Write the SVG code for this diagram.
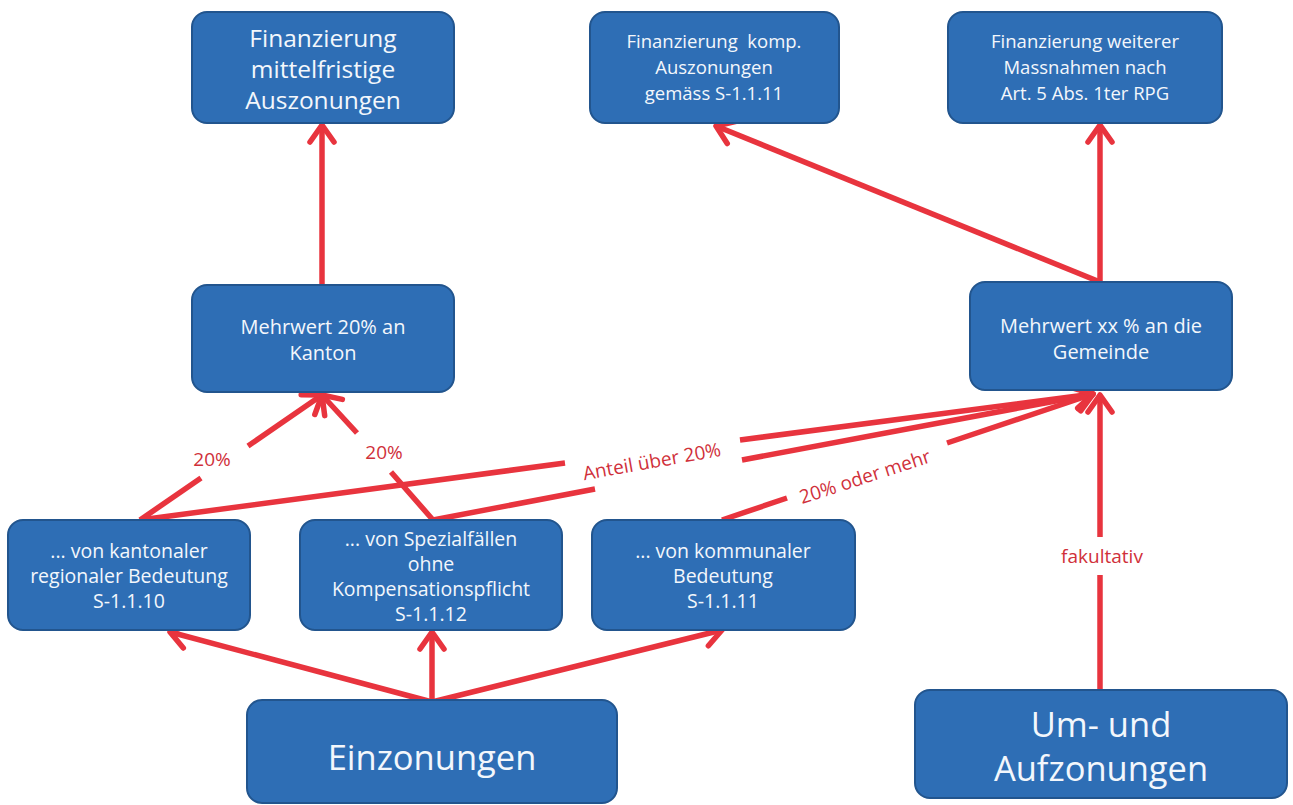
<svg xmlns="http://www.w3.org/2000/svg" width="1293" height="805" viewBox="0 0 1293 805">
<defs>
<style>
.box{fill:#2E6EB5;stroke:#22558E;stroke-width:2}
.t{font-family:"Open Sans","Liberation Sans",sans-serif;fill:#F3F7FC;text-anchor:middle}
.s{font-size:18.5px}
.r{font-size:19.5px}
.m{font-size:20px}
.b{font-size:24.5px}
.xl{font-size:34.5px}
.c{stroke:#E8343E;stroke-width:5.5;fill:none;marker-end:url(#ah)}
.lbl{font-family:"Open Sans","Liberation Sans",sans-serif;fill:#D0303A;font-size:19px;text-anchor:middle}
</style>
<marker id="ah" markerUnits="userSpaceOnUse" markerWidth="34" markerHeight="34" viewBox="0 0 34 34" refX="28" refY="17" orient="auto">
<path d="M11,5 L28,17 L11,29" fill="none" stroke="#E8343E" stroke-width="5.5" stroke-linecap="round" stroke-linejoin="round"/>
</marker>
</defs>
<rect width="1293" height="805" fill="#FFFFFF"/>

<g id="connectors">
<path class="c" d="M322,285 L322,125"/>
<path class="c" d="M1100,282 L716,126"/>
<path class="c" d="M1100,282 L1100,125"/>
<path class="c" d="M140,520 L201,478 M248,446 L322,395"/>
<path class="c" d="M433,520 L391,472 M357,433 L322,395"/>
<path class="c" d="M140,520 L565,463 M740,440 L1093,394"/>
<path class="c" d="M433,520 L595,489 M742,460 L1093,394"/>
<path class="c" d="M722,520 L787,498 M947,443 L1093,394"/>
<path class="c" d="M1100,690 L1100,575 M1100,537 L1100,395"/>
<path class="c" d="M432,702 L170,632"/>
<path class="c" d="M432,702 L432,632"/>
<path class="c" d="M432,702 L722,630"/>
<text class="lbl" x="212" y="466">20%</text>
<text class="lbl" x="384" y="459">20%</text>
<text class="lbl" x="653" y="468" transform="rotate(-10 653 468)">Anteil über 20%</text>
<text class="lbl" x="867" y="483" transform="rotate(-18 867 483)">20% oder mehr</text>
<text class="lbl" x="1102" y="563">fakultativ</text>
</g>

<g id="n-fin-mittel">
<rect class="box" x="192" y="12" width="262" height="111" rx="15"/>
<text class="t b" x="323" y="47"><tspan x="323">Finanzierung</tspan><tspan x="323" dy="31">mittelfristige</tspan><tspan x="323" dy="31">Auszonungen</tspan></text>
</g>

<g id="n-fin-komp">
<rect class="box" x="590" y="12" width="249" height="111" rx="15"/>
<text class="t s" x="714" y="48" xml:space="preserve"><tspan x="714">Finanzierung  komp.</tspan><tspan x="714" dy="26">Auszonungen</tspan><tspan x="714" dy="26">gemäss S-1.1.11</tspan></text>
</g>

<g id="n-fin-weitere">
<rect class="box" x="948" y="12" width="274" height="111" rx="15"/>
<text class="t s" x="1085" y="48"><tspan x="1085">Finanzierung weiterer</tspan><tspan x="1085" dy="26">Massnahmen nach</tspan><tspan x="1085" dy="26">Art. 5 Abs. 1ter RPG</tspan></text>
</g>

<g id="n-kanton">
<rect class="box" x="192" y="285" width="262" height="107" rx="15"/>
<text class="t m" x="323" y="334"><tspan x="323">Mehrwert 20% an</tspan><tspan x="323" dy="26">Kanton</tspan></text>
</g>

<g id="n-gemeinde">
<rect class="box" x="970" y="282" width="262" height="108" rx="15"/>
<text class="t m" x="1101" y="333"><tspan x="1101">Mehrwert xx % an die</tspan><tspan x="1101" dy="26">Gemeinde</tspan></text>
</g>

<g id="n-kantonal">
<rect class="box" x="8" y="520" width="242" height="110" rx="15"/>
<text class="t r" x="129" y="558"><tspan x="129">... von kantonaler</tspan><tspan x="129" dy="25">regionaler Bedeutung</tspan><tspan x="129" dy="25">S-1.1.10</tspan></text>
</g>

<g id="n-spezial">
<rect class="box" x="300" y="520" width="262" height="110" rx="15"/>
<text class="t r" x="431" y="546"><tspan x="431">... von Spezialfällen</tspan><tspan x="431" dy="25">ohne</tspan><tspan x="431" dy="25">Kompensationspflicht</tspan><tspan x="431" dy="25">S-1.1.12</tspan></text>
</g>

<g id="n-kommunal">
<rect class="box" x="592" y="520" width="263" height="110" rx="15"/>
<text class="t r" x="723" y="558"><tspan x="723">... von kommunaler</tspan><tspan x="723" dy="25">Bedeutung</tspan><tspan x="723" dy="25">S-1.1.11</tspan></text>
</g>

<g id="n-einzonungen">
<rect class="box" x="247" y="700" width="370" height="103" rx="15"/>
<text class="t xl" x="432" y="770">Einzonungen</text>
</g>

<g id="n-umauf">
<rect class="box" x="915" y="690" width="372" height="108" rx="15"/>
<text class="t xl" x="1101" y="737"><tspan x="1101">Um- und</tspan><tspan x="1101" dy="44">Aufzonungen</tspan></text>
</g>
</svg>
